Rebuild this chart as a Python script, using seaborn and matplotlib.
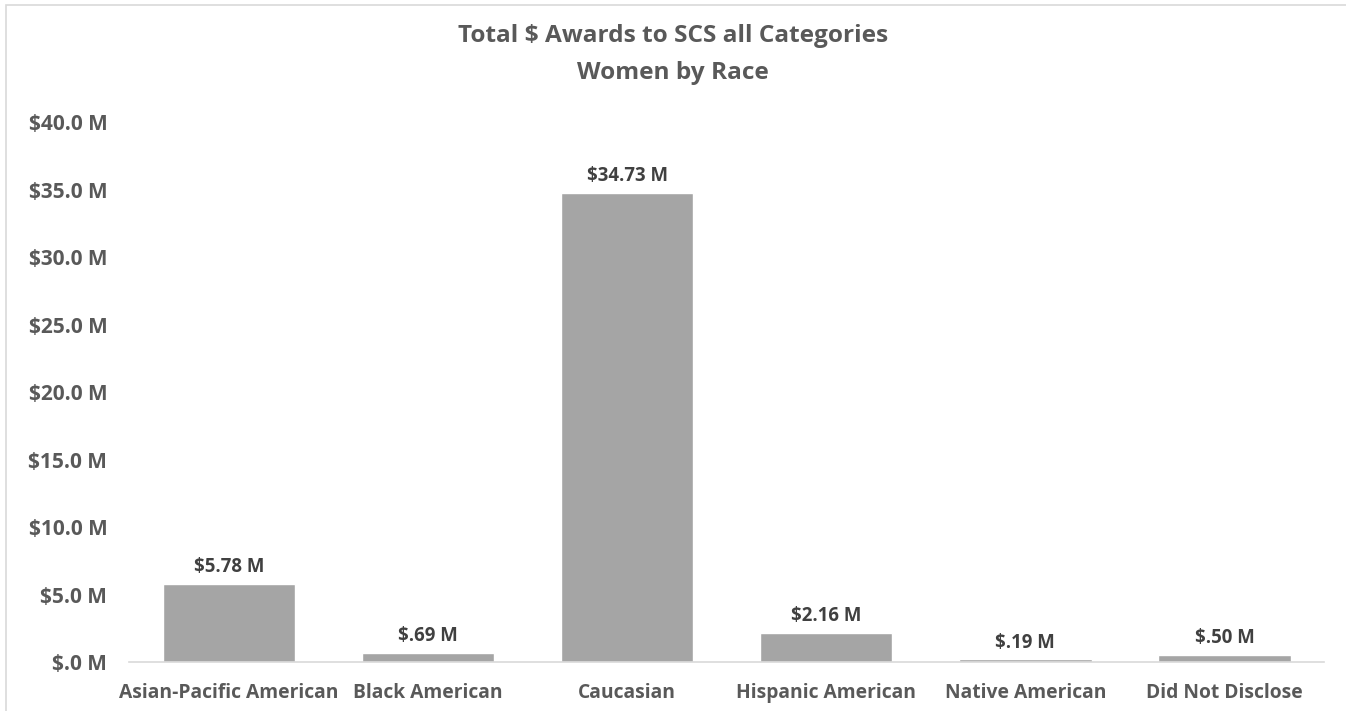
import matplotlib
matplotlib.use("Agg")
import matplotlib.pyplot as plt
import matplotlib.ticker as mticker
from matplotlib.patches import Rectangle
import seaborn as sns
import pandas as pd

# values (millions of $)
categories = ["Asian-Pacific American", "Black American", "Caucasian",
              "Hispanic American", "Native American", "Did Not Disclose"]
awards = [5.78, 0.69, 34.73, 2.16, 0.19, 0.50]
y_ticks = [0, 5, 10, 15, 20, 25, 30, 35, 40]

sns.set_theme(style="white")
plt.rcParams["font.family"] = ["Open Sans", "DejaVu Sans"]

TEXT = "#595959"
BAR = "#A5A5A5"

df = pd.DataFrame({"race": categories, "amount": awards})

fig = plt.figure(figsize=(13.46, 7.11), dpi=100)
ax = fig.add_axes([0.0962, 0.0689, 0.8874, 0.7595])

sns.barplot(data=df, x="race", y="amount", color=BAR, width=0.665,
            saturation=1, ax=ax)

ax.set_xlim(-0.5, len(categories) - 0.5)
ax.set_ylim(0, 40)
ax.set_yticks(y_ticks)
ax.yaxis.set_major_formatter(mticker.FuncFormatter(
    lambda v, _: f"${v:.1f} M".replace("$0.", "$.")))
ax.set_xlabel("")
ax.set_ylabel("")
ax.tick_params(axis="both", length=0, labelcolor=TEXT)
ax.tick_params(axis="x", pad=15, labelsize=13.9)
ax.tick_params(axis="y", pad=16, labelsize=15)
for lbl in ax.get_xticklabels() + ax.get_yticklabels():
    lbl.set_fontweight("bold")

for s in ["top", "right", "left"]:
    ax.spines[s].set_visible(False)
ax.spines["bottom"].set_color("#D9D9D9")
ax.spines["bottom"].set_linewidth(1.2)

labels = [f"${v:.2f} M".replace("$0.", "$.") for v in awards]
ax.bar_label(ax.containers[0], labels=labels, padding=5, fontsize=13.4,
             fontweight="bold", color="#404040")

fig.text(0.5, 1 - 36 / 711, "Total $ Awards to SCS all Categories", ha="center",
         va="center", fontsize=17.6, fontweight="bold", color=TEXT)
fig.text(0.5, 1 - 73 / 711, "Women by Race", ha="center", va="center",
         fontsize=17.6, fontweight="bold", color=TEXT)

# light chart-area border, cut off on the right and bottom like the screenshot
fig.patches.append(Rectangle((6 / 1346, -0.05), 1.2, 1 - 5 / 711 + 0.05,
                             transform=fig.transFigure, fill=False,
                             edgecolor="#D9D9D9", linewidth=1.2))

fig.savefig("out.png", dpi=100)
